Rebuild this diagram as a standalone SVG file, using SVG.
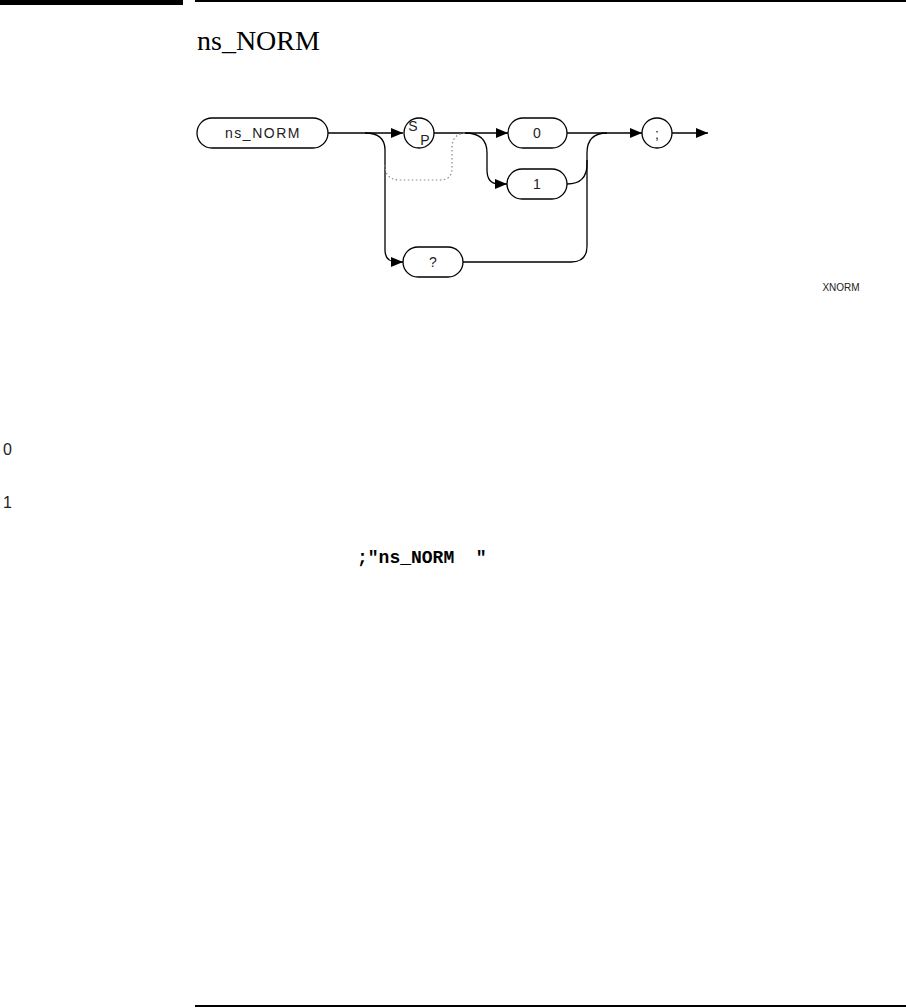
<svg xmlns="http://www.w3.org/2000/svg" width="906" height="1008" viewBox="0 0 906 1008">
<style>
.box{fill:#fff;stroke:#000;stroke-width:1.3}
.c{fill:none;stroke:#000;stroke-width:1.3}
.dot{fill:none;stroke:#888;stroke-width:1.2;stroke-dasharray:1.5 2.5}
.lbl{font-family:"Liberation Sans",Arial,sans-serif;font-size:14px;fill:#222;text-anchor:middle}
</style>
<defs>
<marker id="ar" viewBox="0 0 12 10" refX="12" refY="5" markerWidth="12" markerHeight="10" markerUnits="userSpaceOnUse" orient="auto">
<path d="M0,0 L12,5 L0,10 Z" fill="#000"/>
</marker>
</defs>
<rect width="906" height="1008" fill="#fff"/>
<rect x="0" y="0" width="183" height="5" fill="#000"/>
<rect x="195" y="0" width="711" height="2" fill="#000"/>
<text x="197" y="50" font-family="'Liberation Serif','Times New Roman',serif" font-size="28" fill="#000">ns_NORM</text>

<g id="connectors">
<path class="c" d="M328,133 H403" marker-end="url(#ar)"/>
<path class="c" d="M365,133 Q385,133 385,150 V250 Q385,262 397,262 H403" marker-end="url(#ar)"/>
<path class="c" d="M434,133 H508" marker-end="url(#ar)"/>
<path class="c" d="M465,133 Q487,133 487,153 V170 Q487,184 499,184 H507" marker-end="url(#ar)"/>
<path class="c" d="M567,133 H642" marker-end="url(#ar)"/>
<path class="c" d="M567,184 Q587,184 587,164 V153 Q587,133 607,133"/>
<path class="c" d="M463,262 H571 Q587,262 587,246 V160"/>
<path class="c" d="M672,133 H708" marker-end="url(#ar)"/>
<path class="dot" d="M385,165 Q385,180 400,180 H440 Q452,180 452,168 V148 Q452,133 467,133"/>
</g>

<g id="node-nsnorm">
<rect class="box" x="197" y="118" width="131" height="30" rx="15"/>
<text class="lbl" x="263" y="138" letter-spacing="1.5">ns_NORM</text>
</g>
<g id="node-sp">
<circle class="box" cx="419" cy="133" r="15"/>
<text class="lbl" x="413" y="131">S</text>
<text class="lbl" x="425" y="145" font-size="15">P</text>
</g>
<g id="node-0">
<rect class="box" x="508" y="118" width="59" height="30" rx="15"/>
<text class="lbl" x="537" y="138">0</text>
</g>
<g id="node-1">
<rect class="box" x="507" y="169" width="60" height="30" rx="15"/>
<text class="lbl" x="537" y="189">1</text>
</g>
<g id="node-q">
<rect class="box" x="403" y="247" width="60" height="30" rx="15"/>
<text class="lbl" x="433" y="267">?</text>
</g>
<g id="node-semi">
<circle class="box" cx="657" cy="133" r="15"/>
<text class="lbl" x="657" y="139" font-size="18">;</text>
</g>

<text x="841" y="291" font-family="'Liberation Sans',Arial,sans-serif" font-size="10" fill="#222" text-anchor="middle">XNORM</text>
<text x="3" y="455" font-family="'Liberation Sans',Arial,sans-serif" font-size="16" fill="#222">0</text>
<text x="3" y="508" font-family="'Liberation Sans',Arial,sans-serif" font-size="16" fill="#222">1</text>
<text x="357" y="563" font-family="'Liberation Mono','Courier New',monospace" font-size="18" font-weight="bold" fill="#000" xml:space="preserve">;"ns_NORM  "</text>
<rect x="195" y="1005" width="711" height="2" fill="#000"/>
</svg>
